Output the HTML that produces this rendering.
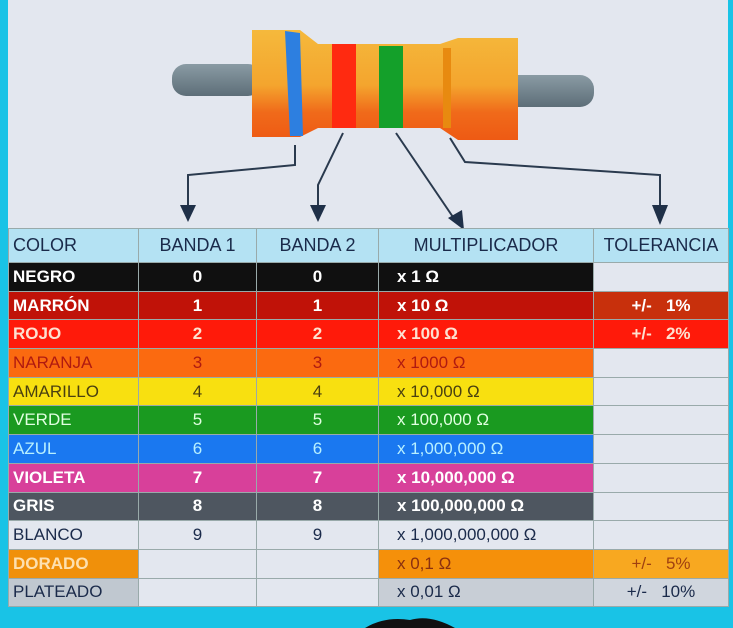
<!DOCTYPE html>
<html><head><meta charset="utf-8"><style>
body{margin:0;width:733px;height:628px;background:#19c3e6;position:relative;overflow:hidden;font-family:"Liberation Sans",sans-serif}
#panel{position:absolute;left:8px;top:0;width:720px;height:607px;background:#e3e7ef}
table{position:absolute;left:8px;top:228px;border-collapse:collapse;font-weight:bold;font-size:17px}
td{padding:0;height:27.7px;border:1px solid #9aa;text-align:center;white-space:nowrap;overflow:hidden}
td.c{text-align:left;padding-left:4px}
td.m{text-align:left;padding-left:18px}
tr.h td{background:#b4e2f3;color:#1a2a4a;font-weight:normal;height:33px;font-size:18px}
.w{color:#fff}
</style></head><body>
<div id="panel"></div>
<svg width="733" height="628" style="position:absolute;left:0;top:0">
<defs><linearGradient id="b" x1="0" y1="0" x2="0" y2="1"><stop offset="0" stop-color="#f5b93c"/><stop offset=".5" stop-color="#f4a52e"/><stop offset=".75" stop-color="#f06a1a"/><stop offset="1" stop-color="#ee5a14"/></linearGradient>
<linearGradient id="g" x1="0" y1="0" x2="0" y2="1"><stop offset="0" stop-color="#8a9ba4"/><stop offset="1" stop-color="#5d6e78"/></linearGradient></defs>
<rect x="172" y="64" width="90" height="32" rx="14" fill="url(#g)"/>
<rect x="500" y="75" width="94" height="32" rx="14" fill="url(#g)"/>
<path d="M252 30 H300 L318 44 H440 L458 38 H518 V140 H458 L440 128 H318 L300 137 H252 Z" fill="url(#b)"/>
<polygon points="285,31 300,33 303,136 290,136" fill="#2d7fe0"/>
<rect x="332" y="44" width="24" height="84" fill="#ff2a10"/>
<rect x="379" y="46" width="24" height="82" fill="#14a02a"/>
<rect x="443" y="48" width="8" height="80" fill="#e88a10"/>
<g stroke="#2a3a4e" stroke-width="2" fill="none">
<polyline points="295,145 295,165 188,175 188,210"/>
<polyline points="343,133 318,185 318,210"/>
<polyline points="396,133 455,220"/>
<polyline points="450,138 465,162 660,175 660,210"/>
</g>
<g fill="#1f3048">
<polygon points="180,205 196,205 188,222"/>
<polygon points="310,205 326,205 318,222"/>
<polygon points="448,218 462,210 464,230"/>
<polygon points="652,205 668,205 660,225"/>
</g>
<path d="M365 628 Q385 616 410 620 Q430 614 455 628 Z" fill="#111"/>
</svg>
<table>
<colgroup><col style="width:130px"><col style="width:118px"><col style="width:122px"><col style="width:215px"><col style="width:135px"></colgroup>
<tr class="h"><td class="c">COLOR</td><td>BANDA 1</td><td>BANDA 2</td><td>MULTIPLICADOR</td><td>TOLERANCIA</td></tr>
<tr style="background:#101010" class="w"><td class="c">NEGRO</td><td>0</td><td>0</td><td class="m">x 1 Ω</td><td style="background:#e3e7ef"></td></tr>
<tr style="background:#c01208" class="w"><td class="c">MARRÓN</td><td>1</td><td>1</td><td class="m">x 10 Ω</td><td style="background:#c8300c">+/-&nbsp;&nbsp; 1%</td></tr>
<tr style="background:#ff1a0a;color:#fde0d0"><td class="c">ROJO</td><td>2</td><td>2</td><td class="m">x 100 Ω</td><td>+/-&nbsp;&nbsp; 2%</td></tr>
<tr style="background:#fb6a10;color:#b01a10;font-weight:normal"><td class="c">NARANJA</td><td>3</td><td>3</td><td class="m">x 1000 Ω</td><td style="background:#e3e7ef"></td></tr>
<tr style="background:#f8e010;color:#4a4010;font-weight:normal"><td class="c">AMARILLO</td><td>4</td><td>4</td><td class="m">x 10,000 Ω</td><td style="background:#e3e7ef"></td></tr>
<tr style="background:#1a9a20;color:#e0ffe0;font-weight:normal"><td class="c">VERDE</td><td>5</td><td>5</td><td class="m">x 100,000 Ω</td><td style="background:#e3e7ef"></td></tr>
<tr style="background:#1a78f0;color:#b8f0ff;font-weight:normal"><td class="c">AZUL</td><td>6</td><td>6</td><td class="m">x 1,000,000 Ω</td><td style="background:#e3e7ef"></td></tr>
<tr style="background:#d8409a" class="w"><td class="c">VIOLETA</td><td>7</td><td>7</td><td class="m">x 10,000,000 Ω</td><td style="background:#e3e7ef"></td></tr>
<tr style="background:#4e5660" class="w"><td class="c">GRIS</td><td>8</td><td>8</td><td class="m">x 100,000,000 Ω</td><td style="background:#e3e7ef"></td></tr>
<tr style="background:#e3e7ef;color:#1a2a4a;font-weight:normal"><td class="c">BLANCO</td><td>9</td><td>9</td><td class="m">x 1,000,000,000 Ω</td><td></td></tr>
<tr style="background:#e3e7ef;font-weight:normal"><td class="c" style="background:#f0900a;color:#fde0b0;font-weight:bold">DORADO</td><td></td><td></td><td class="m" style="background:#f5900a;color:#8a3010">x 0,1 Ω</td><td style="background:#f8a820;color:#a04010">+/-&nbsp;&nbsp; 5%</td></tr>
<tr style="background:#e3e7ef;font-weight:normal;color:#1a2a4a"><td class="c" style="background:#c0c8d0">PLATEADO</td><td></td><td></td><td class="m" style="background:#c8ced6">x 0,01 Ω</td><td style="background:#d0d6de">+/-&nbsp;&nbsp; 10%</td></tr>
</table>
</body></html>
